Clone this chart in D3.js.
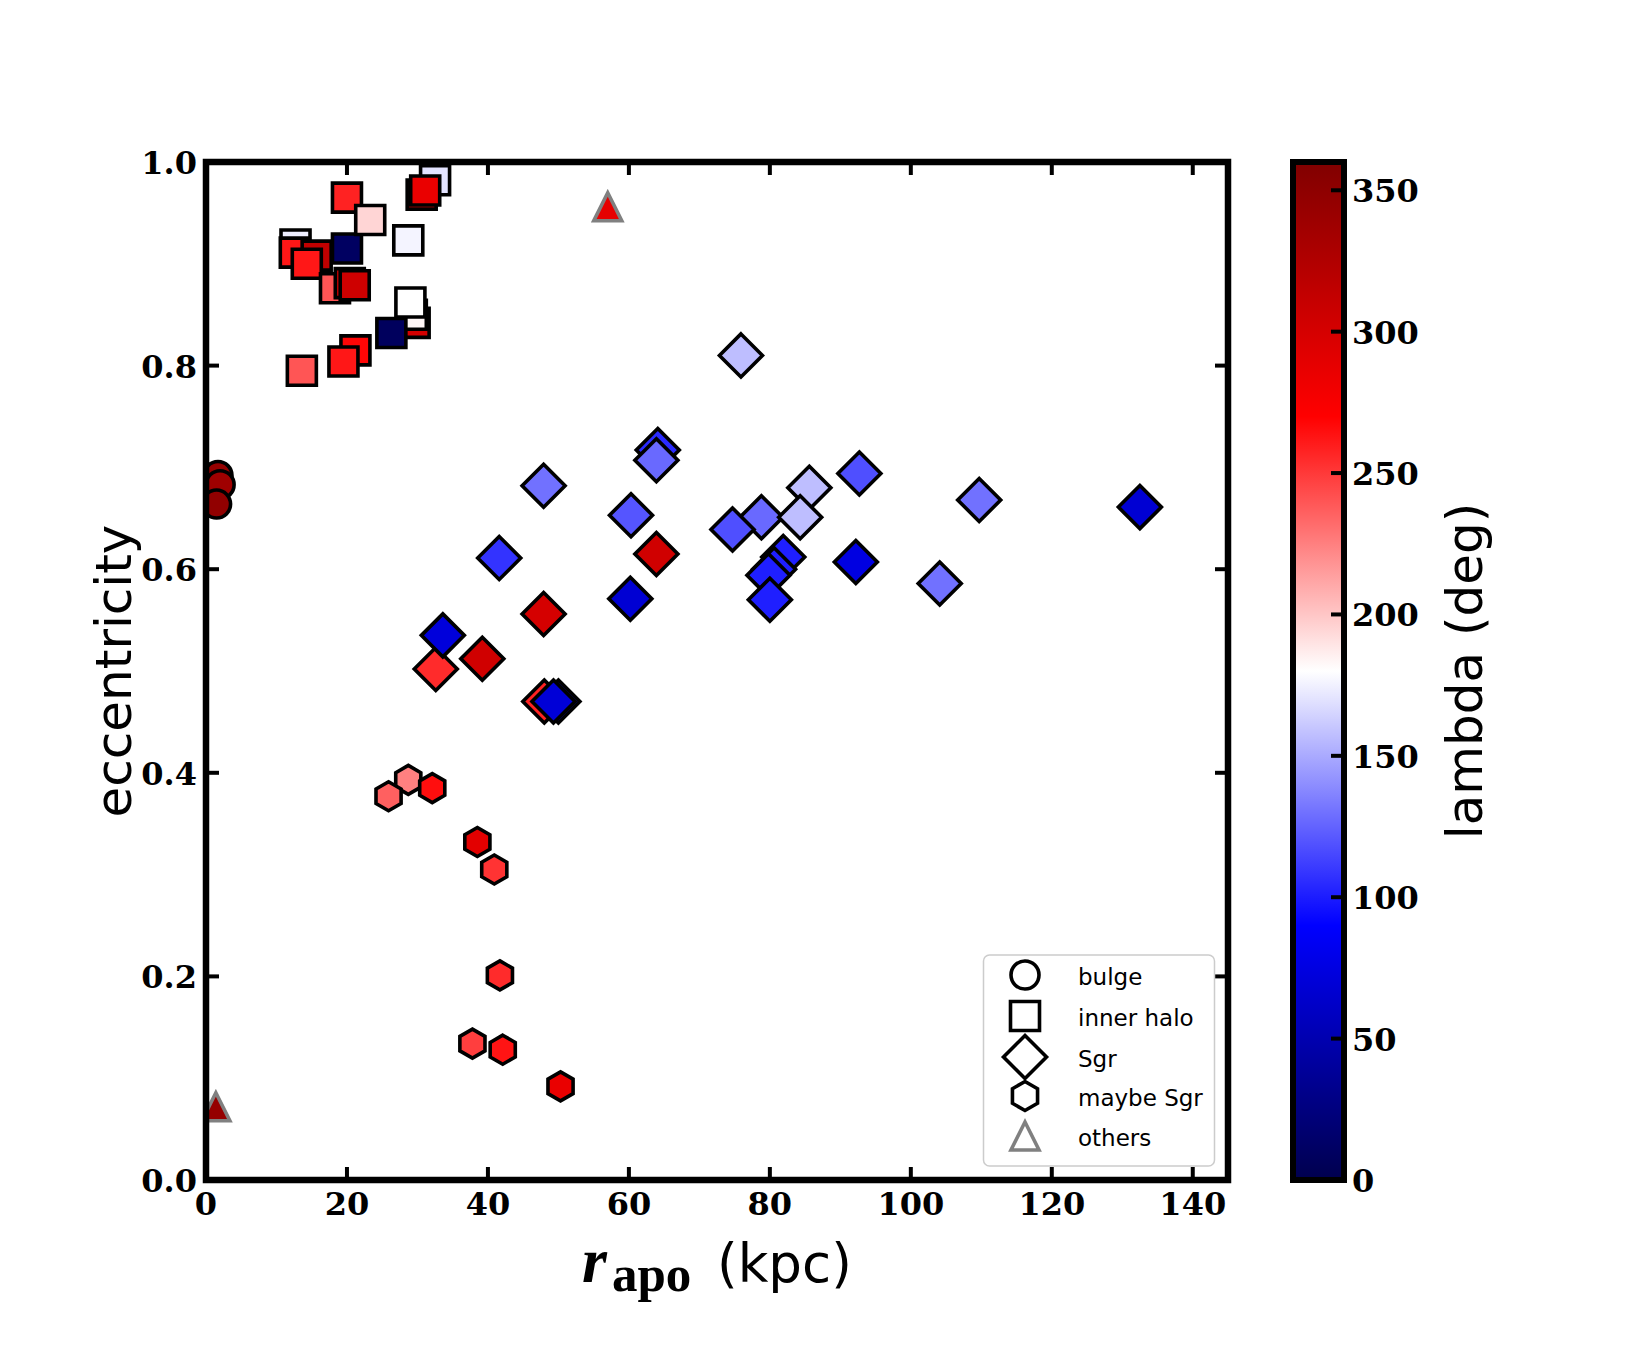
<!DOCTYPE html>
<html><head><meta charset="utf-8">
<script src="https://cdn.jsdelivr.net/npm/d3@7"></script>
<style>body{margin:0;background:#fff}</style>
</head><body><svg id="c" width="1650" height="1350"></svg>
<script>
// ---- data ----
const xTicks = [0, 20, 40, 60, 80, 100, 120, 140];
const yTicks = [0, 0.2, 0.4, 0.6, 0.8, 1.0];
const cbTicks = [0, 50, 100, 150, 200, 250, 300, 350];
const legendLabels = ["bulge", "inner halo", "Sgr", "maybe Sgr", "others"];
// each entry: [r_apo (kpc), eccentricity, lambda (deg)]
const bulge = [[1.7, 0.692, 345], [2.0, 0.683, 338], [1.5, 0.664, 348]];
const innerHalo = [
  [12.7, 0.919, 174], [12.6, 0.911, 262], [15.7, 0.908, 315], [14.3, 0.900, 262],
  [18.3, 0.876, 240], [20.0, 0.915, 10], [20.4, 0.881, 310], [21.1, 0.879, 305],
  [20.0, 0.965, 258], [23.3, 0.943, 195], [28.7, 0.923, 176], [32.5, 0.982, 170],
  [30.6, 0.968, 268], [31.1, 0.972, 285], [29.6, 0.842, 300], [29.2, 0.850, 183],
  [29.0, 0.862, 180], [26.3, 0.832, 8], [21.2, 0.815, 268], [19.5, 0.804, 262],
  [13.6, 0.795, 240]
];
const sgr = [
  [75.9, 0.810, 157], [47.9, 0.682, 130], [64.1, 0.717, 105], [63.9, 0.707, 127],
  [60.3, 0.653, 120], [63.9, 0.615, 303], [41.6, 0.611, 108], [60.2, 0.571, 68],
  [47.9, 0.556, 300], [32.6, 0.502, 255], [33.6, 0.535, 72], [39.2, 0.512, 303],
  [48.0, 0.470, 258], [50.0, 0.470, 85], [49.3, 0.470, 70], [78.8, 0.651, 127],
  [74.7, 0.639, 118], [85.6, 0.680, 157], [84.3, 0.651, 157], [92.7, 0.694, 118],
  [81.9, 0.612, 101], [80.6, 0.600, 101], [79.8, 0.594, 101], [80.0, 0.570, 101],
  [92.2, 0.607, 75], [109.7, 0.668, 130], [104.1, 0.586, 130], [132.5, 0.661, 68]
];
const maybeSgr = [
  [28.7, 0.393, 225], [25.9, 0.377, 236], [32.1, 0.385, 265], [38.5, 0.332, 290],
  [40.9, 0.305, 252], [41.7, 0.201, 255], [37.8, 0.134, 248], [42.1, 0.128, 263],
  [50.3, 0.092, 285]
];
const others = [[57.0, 0.956, 288], [1.4, 0.072, 345]];

// ---- layout ----
const svg = d3.select("#c");
const L = 206, R = 1228, T = 162, B = 1180;
const x = d3.scaleLinear().domain([0, 145]).range([L, R]);
const y = d3.scaleLinear().domain([0, 1]).range([B, T]);
const seismic = d3.scaleLinear().domain([0, 90, 180, 270, 360])
  .range(["rgb(0,0,77)", "rgb(0,0,255)", "rgb(255,255,255)", "rgb(255,0,0)", "rgb(128,0,0)"])
  .clamp(true);
const TICKFONT = "DejaVu Serif", TICKSIZE = 32;

const defs = svg.append("defs");
defs.append("clipPath").attr("id", "clip").append("rect")
  .attr("x", L).attr("y", T).attr("width", R - L).attr("height", B - T);

// marker shape paths (centered at 0,0)
const sq = s => `M${-s},${-s}H${s}V${s}H${-s}Z`;
const dia = r => `M0,${-r}L${r},0L0,${r}L${-r},0Z`;
const hex = r => {
  const p = d3.range(6).map(i => { const a = -Math.PI / 2 + i * Math.PI / 3; return [r * Math.cos(a), r * Math.sin(a)]; });
  return "M" + p.map(d => d.join(",")).join("L") + "Z";
};
const tri = a => `M0,${-a}L${a},${a}L${-a},${a}Z`;

const plot = svg.append("g").attr("clip-path", "url(#clip)");
const SW = 3.6;

plot.append("g").selectAll("circle").data(bulge).join("circle")
  .attr("cx", d => x(d[0])).attr("cy", d => y(d[1])).attr("r", 14)
  .attr("fill", d => seismic(d[2])).attr("stroke", "#000").attr("stroke-width", SW);

function shapes(data, pathStr, stroke) {
  plot.append("g").selectAll("path").data(data).join("path")
    .attr("d", pathStr)
    .attr("transform", d => `translate(${x(d[0])},${y(d[1])})`)
    .attr("fill", d => seismic(d[2])).attr("stroke", stroke).attr("stroke-width", SW)
    .attr("stroke-linejoin", "miter");
}
shapes(innerHalo, sq(14.5), "#000");
shapes(sgr, dia(21.5), "#000");
shapes(maybeSgr, hex(14.5), "#000");
shapes(others, tri(14), "#808080");

// ---- axes frame + ticks ----
const ax = svg.append("g");
const TL = 13, TW = 4;
xTicks.forEach(v => {
  ax.append("line").attr("x1", x(v)).attr("x2", x(v)).attr("y1", B).attr("y2", B - TL).attr("stroke", "#000").attr("stroke-width", TW);
  ax.append("line").attr("x1", x(v)).attr("x2", x(v)).attr("y1", T).attr("y2", T + TL).attr("stroke", "#000").attr("stroke-width", TW);
  ax.append("text").attr("x", x(v)).attr("y", 1215).attr("text-anchor", "middle")
    .attr("font-family", TICKFONT).attr("font-weight", "bold").attr("font-size", TICKSIZE).text(v);
});
yTicks.forEach(v => {
  ax.append("line").attr("x1", L).attr("x2", L + TL).attr("y1", y(v)).attr("y2", y(v)).attr("stroke", "#000").attr("stroke-width", TW);
  ax.append("line").attr("x1", R).attr("x2", R - TL).attr("y1", y(v)).attr("y2", y(v)).attr("stroke", "#000").attr("stroke-width", TW);
  ax.append("text").attr("x", 197).attr("y", y(v) + 12).attr("text-anchor", "end")
    .attr("font-family", TICKFONT).attr("font-weight", "bold").attr("font-size", TICKSIZE).text(d3.format(".1f")(v));
});
ax.append("rect").attr("x", L).attr("y", T).attr("width", R - L).attr("height", B - T)
  .attr("fill", "none").attr("stroke", "#000").attr("stroke-width", 6.5);

// axis labels
svg.append("text").attr("transform", "translate(131,671) rotate(-90)").attr("text-anchor", "middle")
  .attr("font-family", "DejaVu Sans").attr("font-size", 50).text("eccentricity");
svg.append("text").attr("x", 582).attr("y", 1282)
  .attr("font-family", "Liberation Serif").attr("font-style", "italic").attr("font-weight", "bold").attr("font-size", 64).text("r");
svg.append("text").attr("x", 612).attr("y", 1291)
  .attr("font-family", "Liberation Serif").attr("font-weight", "bold").attr("font-size", 51).text("apo");
svg.append("text").attr("x", 717).attr("y", 1282)
  .attr("font-family", "DejaVu Sans").attr("font-size", 53).text("(kpc)");

// ---- legend ----
const lg = svg.append("g");
lg.append("rect").attr("x", 983.5).attr("y", 955).attr("width", 231).attr("height", 211).attr("rx", 6)
  .attr("fill", "#fff").attr("fill-opacity", 0.8).attr("stroke", "#cccccc").attr("stroke-width", 1.5);
const rowY = [975, 1016, 1057, 1096, 1136];
const lx = 1025;
lg.append("circle").attr("cx", lx).attr("cy", rowY[0]).attr("r", 14).attr("fill", "#fff").attr("stroke", "#000").attr("stroke-width", SW);
lg.append("path").attr("d", sq(14.5)).attr("transform", `translate(${lx},${rowY[1]})`).attr("fill", "#fff").attr("stroke", "#000").attr("stroke-width", SW);
lg.append("path").attr("d", dia(21.5)).attr("transform", `translate(${lx},${rowY[2]})`).attr("fill", "#fff").attr("stroke", "#000").attr("stroke-width", SW);
lg.append("path").attr("d", hex(14.5)).attr("transform", `translate(${lx},${rowY[3]})`).attr("fill", "#fff").attr("stroke", "#000").attr("stroke-width", SW);
lg.append("path").attr("d", tri(14)).attr("transform", `translate(${lx},${rowY[4]})`).attr("fill", "#fff").attr("stroke", "#808080").attr("stroke-width", SW);
legendLabels.forEach((t, i) => {
  lg.append("text").attr("x", 1078).attr("y", rowY[i] + 10).attr("font-family", "DejaVu Sans").attr("font-size", 23).text(t);
});

// ---- colorbar ----
const cbL = 1293, cbR = 1344;
const cy = d3.scaleLinear().domain([0, 360]).range([B, T]);
const grad = defs.append("linearGradient").attr("id", "cbg").attr("x1", 0).attr("y1", 1).attr("x2", 0).attr("y2", 0);
d3.range(0, 361, 10).forEach(v => grad.append("stop").attr("offset", v / 360).attr("stop-color", seismic(v)));
svg.append("rect").attr("x", cbL).attr("y", T).attr("width", cbR - cbL).attr("height", B - T).attr("fill", "url(#cbg)");
cbTicks.forEach(v => {
  svg.append("line").attr("x1", cbR).attr("x2", cbR - TL).attr("y1", cy(v)).attr("y2", cy(v)).attr("stroke", "#000").attr("stroke-width", TW);
  svg.append("text").attr("x", 1352).attr("y", cy(v) + 12)
    .attr("font-family", TICKFONT).attr("font-weight", "bold").attr("font-size", TICKSIZE).text(v);
});
svg.append("rect").attr("x", cbL).attr("y", T).attr("width", cbR - cbL).attr("height", B - T)
  .attr("fill", "none").attr("stroke", "#000").attr("stroke-width", 6);
svg.append("text").attr("transform", "translate(1482,671) rotate(-90)").attr("text-anchor", "middle")
  .attr("font-family", "DejaVu Sans").attr("font-size", 50).text("lambda (deg)");
</script>
</body></html>
